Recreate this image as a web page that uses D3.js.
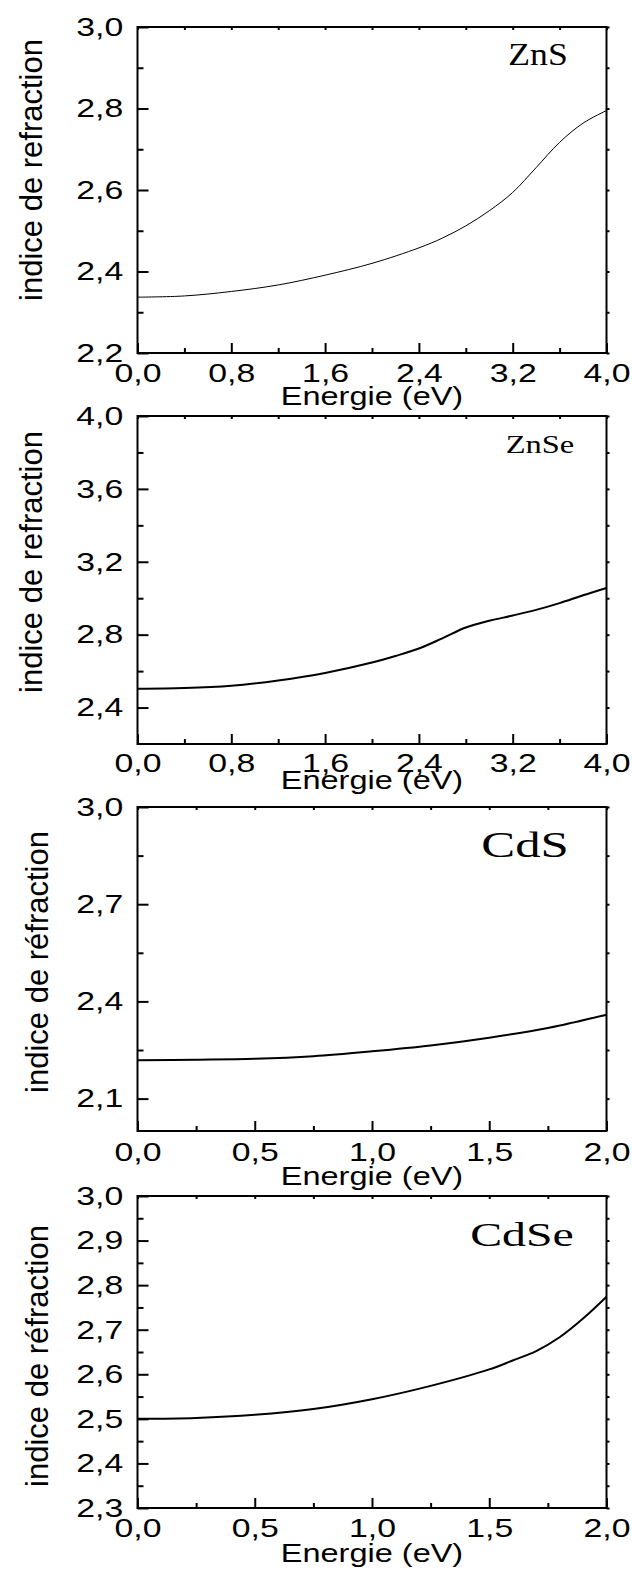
<!DOCTYPE html>
<html>
<head>
<meta charset="utf-8">
<script src="https://cdn.jsdelivr.net/npm/d3@7"></script>
<style>
  html, body { margin: 0; padding: 0; background: #fff; }
  svg { display: block; }
</style>
</head>
<body>
<svg id="chart" width="632" height="1594"></svg>
<script>
// Refractive index n(E) of four II-VI compounds

// ZnS
const znsEnergy = [0, 0.4, 0.8, 1.2, 1.6, 2.0, 2.4, 2.6, 2.8, 3.0, 3.2, 3.4, 3.6, 3.8, 4.0];
const znsIndex  = [2.337, 2.340, 2.351, 2.367, 2.391, 2.420, 2.458, 2.482, 2.512, 2.549, 2.594, 2.655, 2.717, 2.764, 2.795];
const znsXTicks = [0, 0.8, 1.6, 2.4, 3.2, 4.0];
const znsXMinor = [0.4, 1.2, 2.0, 2.8, 3.6];
const znsYTicks = [2.2, 2.4, 2.6, 2.8, 3.0];
const znsYMinor = [2.3, 2.5, 2.7, 2.9];

// ZnSe
const znseEnergy = [0, 0.4, 0.8, 1.2, 1.6, 2.0, 2.2, 2.4, 2.6, 2.8, 3.0, 3.2, 3.4, 3.6, 3.8, 4.0];
const znseIndex  = [2.503, 2.507, 2.520, 2.549, 2.590, 2.647, 2.683, 2.724, 2.780, 2.839, 2.876, 2.905, 2.936, 2.973, 3.016, 3.056];
const znseXTicks = [0, 0.8, 1.6, 2.4, 3.2, 4.0];
const znseXMinor = [0.4, 1.2, 2.0, 2.8, 3.6];
const znseYTicks = [2.4, 2.8, 3.2, 3.6, 4.0];
const znseYMinor = [2.6, 3.0, 3.4, 3.8];

// CdS
const cdsEnergy = [0, 0.25, 0.5, 0.75, 1.0, 1.25, 1.5, 1.75, 2.0];
const cdsIndex  = [2.218, 2.220, 2.223, 2.231, 2.246, 2.264, 2.288, 2.318, 2.359];
const cdsXTicks = [0, 0.5, 1.0, 1.5, 2.0];
const cdsXMinor = [0.25, 0.75, 1.25, 1.75];
const cdsYTicks = [2.1, 2.4, 2.7, 3.0];
const cdsYMinor = [2.25, 2.55, 2.85];

// CdSe
const cdseEnergy = [0, 0.25, 0.5, 0.75, 1.0, 1.25, 1.5, 1.6, 1.7, 1.8, 1.9, 2.0];
const cdseIndex  = [2.500, 2.502, 2.509, 2.522, 2.544, 2.574, 2.611, 2.631, 2.652, 2.683, 2.725, 2.774];
const cdseXTicks = [0, 0.5, 1.0, 1.5, 2.0];
const cdseXMinor = [0.25, 0.75, 1.25, 1.75];
const cdseYTicks = [2.3, 2.4, 2.5, 2.6, 2.7, 2.8, 2.9, 3.0];
const cdseYMinor = [2.35, 2.45, 2.55, 2.65, 2.75, 2.85, 2.95];

const xTitle = "Energie (eV)";

const panels = [
  { name: "ZnS", energy: znsEnergy, index: znsIndex, xDomain: [0, 4], yDomain: [2.2, 3.0],
    xTicks: znsXTicks, xMinor: znsXMinor, yTicks: znsYTicks, yMinor: znsYMinor,
    top: 27, bottom: 353, yTitle: "indice de refraction", yTitleX: 42, yTitleY: 170,
    xPad: 11, xTitleDy: 52, lineWidth: 1,
    label: { x: 538, y: 65, size: 31, stretch: 1.15 } },
  { name: "ZnSe", energy: znseEnergy, index: znseIndex, xDomain: [0, 4], yDomain: [2.2, 4.0],
    xTicks: znseXTicks, xMinor: znseXMinor, yTicks: znseYTicks, yMinor: znseYMinor,
    top: 416, bottom: 744, yTitle: "indice de refraction", yTitleX: 42, yTitleY: 562,
    xPad: 10, xTitleDy: 45, lineWidth: 2,
    label: { x: 540, y: 453, size: 25, stretch: 1.3 } },
  { name: "CdS", energy: cdsEnergy, index: cdsIndex, xDomain: [0, 2], yDomain: [2.0, 3.0],
    xTicks: cdsXTicks, xMinor: cdsXMinor, yTicks: cdsYTicks, yMinor: cdsYMinor,
    top: 807, bottom: 1131, yTitle: "indice de réfraction", yTitleX: 48, yTitleY: 962,
    xPad: 12, xTitleDy: 54, lineWidth: 2,
    label: { x: 525, y: 857, size: 35, stretch: 1.45 } },
  { name: "CdSe", energy: cdseEnergy, index: cdseIndex, xDomain: [0, 2], yDomain: [2.3, 3.0],
    xTicks: cdseXTicks, xMinor: cdseXMinor, yTicks: cdseYTicks, yMinor: cdseYMinor,
    top: 1196, bottom: 1508, yTitle: "indice de réfraction", yTitleX: 48, yTitleY: 1356,
    xPad: 11, xTitleDy: 54, lineWidth: 2,
    label: { x: 522, y: 1246, size: 33, stretch: 1.45 } }
];

const LEFT = 137.5, RIGHT = 606.5;
const SANS = "'Liberation Sans', Arial, Helvetica, sans-serif";
const SERIF = "'Liberation Serif', 'Times New Roman', Times, serif";
const TEXT_STRETCH = 1.3;

const frFormat = d3.formatLocale({ decimal: ",", thousands: " ", grouping: [3], currency: ["", ""] }).format(".1f");

const svg = d3.select("#chart");

function styleTickText(sel) {
  sel.selectAll("text")
    .attr("font-family", SANS)
    .attr("font-size", 26)
    .attr("fill", "#000")
    .attr("transform", `scale(${TEXT_STRETCH},1)`);
}

function drawPanel(p) {
  const g = svg.append("g").attr("class", "panel");
  const x = d3.scaleLinear().domain(p.xDomain).range([LEFT, RIGHT]);
  const y = d3.scaleLinear().domain(p.yDomain).range([p.bottom, p.top]);

  const clean = sel => { sel.select(".domain").remove(); sel.selectAll("line").attr("stroke", "#000").attr("stroke-width", 2); };

  // bottom axis: minor then major ticks, pointing inward
  g.append("g").attr("transform", `translate(0,${p.bottom})`)
    .call(d3.axisBottom(x).tickValues(p.xMinor).tickSizeInner(-5).tickSizeOuter(0).tickFormat(""))
    .call(clean);
  g.append("g").attr("transform", `translate(0,${p.bottom})`)
    .call(d3.axisBottom(x).tickValues(p.xTicks).tickSizeInner(-10).tickSizeOuter(0).tickPadding(p.xPad).tickFormat(frFormat))
    .call(clean)
    .call(styleTickText);

  // left axis
  g.append("g").attr("transform", `translate(${LEFT},0)`)
    .call(d3.axisLeft(y).tickValues(p.yMinor).tickSizeInner(-6).tickSizeOuter(0).tickFormat(""))
    .call(clean);
  g.append("g").attr("transform", `translate(${LEFT},0)`)
    .call(d3.axisLeft(y).tickValues(p.yTicks).tickSizeInner(-11).tickSizeOuter(0).tickPadding(11).tickFormat(frFormat))
    .call(clean)
    .call(styleTickText);

  // mirrored short ticks on top and right edges
  g.append("g").attr("transform", `translate(0,${p.top})`)
    .call(d3.axisTop(x).tickValues(p.xTicks.concat(p.xMinor)).tickSizeInner(-3).tickSizeOuter(0).tickFormat(""))
    .call(clean);
  g.append("g").attr("transform", `translate(${RIGHT},0)`)
    .call(d3.axisRight(y).tickValues(p.yTicks.concat(p.yMinor)).tickSizeInner(3).tickSizeOuter(0).tickFormat(""))
    .call(clean);

  // frame
  g.append("rect")
    .attr("x", LEFT).attr("y", p.top)
    .attr("width", RIGHT - LEFT).attr("height", p.bottom - p.top)
    .attr("fill", "none").attr("stroke", "#000").attr("stroke-width", 2);

  // curve
  const pts = p.energy.map((e, i) => [e, p.index[i]]);
  g.append("path")
    .datum(pts)
    .attr("fill", "none")
    .attr("stroke", "#000")
    .attr("stroke-width", p.lineWidth)
    .attr("stroke-linejoin", "round")
    .attr("d", d3.line().x(d => x(d[0])).y(d => y(d[1])).curve(d3.curveCatmullRom.alpha(0.5)));

  // x-axis title
  g.append("text")
    .attr("transform", `translate(${(LEFT + RIGHT) / 2},${p.bottom + p.xTitleDy}) scale(${TEXT_STRETCH},1)`)
    .attr("text-anchor", "middle")
    .attr("font-family", SANS)
    .attr("font-size", 25)
    .text(xTitle);

  // y-axis title
  g.append("text")
    .attr("transform", `translate(${p.yTitleX},${p.yTitleY}) rotate(-90)`)
    .attr("text-anchor", "middle")
    .attr("font-family", SANS)
    .attr("font-size", 31)
    .text(p.yTitle);

  // compound name
  g.append("text")
    .attr("transform", `translate(${p.label.x},${p.label.y}) scale(${p.label.stretch},1)`)
    .attr("text-anchor", "middle")
    .attr("font-family", SERIF)
    .attr("font-size", p.label.size)
    .text(p.name);
}

panels.forEach(drawPanel);
</script>
</body>
</html>
